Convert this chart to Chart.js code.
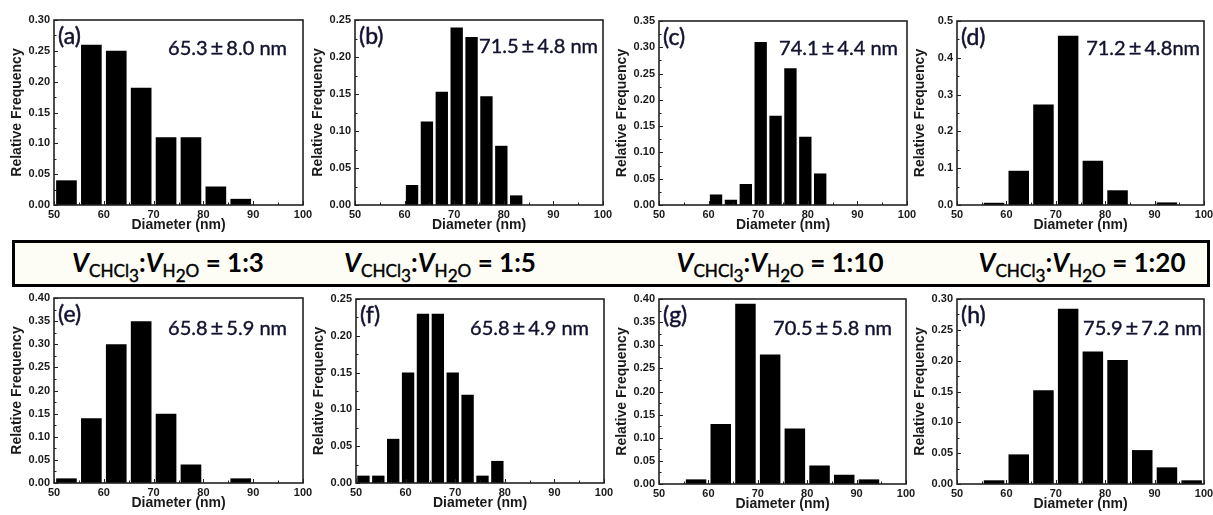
<!DOCTYPE html>
<html><head><meta charset="utf-8">
<script src="https://cdn.jsdelivr.net/npm/chart.js@4.4.1/dist/chart.umd.min.js"></script>
<style>
html,body{margin:0;padding:0;background:#fff;width:1213px;height:515px;overflow:hidden;position:relative;}
canvas{position:absolute;}
.lbl{position:absolute;font-family:Lato,'Open Sans',sans-serif;color:#121230;white-space:nowrap;line-height:24px;height:24px;}
.tag{font-size:23px;-webkit-text-stroke:0.5px #121230;}
.val{font-size:20px;-webkit-text-stroke:0.4px #121230;}
.pm{margin:0 3px;font-size:1.1em;}
#banner{position:absolute;left:12px;top:240px;width:1192px;height:41px;border:3px solid #000;background:#fdfdf6;}
.cond{position:absolute;top:247px;line-height:30px;font-family:Lato,sans-serif;font-weight:700;font-size:26px;color:#000;white-space:nowrap;transform:translateX(-50%);}
.cond i{font-style:italic;}
.s{font-size:0.66em;position:relative;top:0.3em;font-weight:400;-webkit-text-stroke:0.4px #000;}
.s2{position:relative;top:0.3em;}
</style>
</head><body>
<div id="banner"></div>
<div class="cond" style="left:168px"><i>V</i><span class="s">CHCl<span class="s2">3</span></span>:<i>V</i><span class="s">H<span class="s2">2</span>O</span> = 1:3</div>
<div class="cond" style="left:440px"><i>V</i><span class="s">CHCl<span class="s2">3</span></span>:<i>V</i><span class="s">H<span class="s2">2</span>O</span> = 1:5</div>
<div class="cond" style="left:780px"><i>V</i><span class="s">CHCl<span class="s2">3</span></span>:<i>V</i><span class="s">H<span class="s2">2</span>O</span> = 1:10</div>
<div class="cond" style="left:1082px"><i>V</i><span class="s">CHCl<span class="s2">3</span></span>:<i>V</i><span class="s">H<span class="s2">2</span>O</span> = 1:20</div>
<script>
// ---- data ----
const xTicks = [50, 60, 70, 80, 90, 100];

const centersA = [52.5, 57.5, 62.5, 67.5, 72.5, 77.5, 82.5, 87.5, 92.5, 97.5];
const freqA = [0.04, 0.26, 0.25, 0.19, 0.11, 0.11, 0.03, 0.01, 0, 0];
const yTicksA = [0, 0.05, 0.10, 0.15, 0.20, 0.25, 0.30];

const centersB = [61.5, 64.5, 67.5, 70.5, 73.5, 76.5, 79.5, 82.5];
const freqB = [0.027, 0.113, 0.153, 0.24, 0.227, 0.147, 0.08, 0.013];
const yTicksB = [0, 0.05, 0.10, 0.15, 0.20, 0.25];

const centersC = [61.5, 64.5, 67.5, 70.5, 73.5, 76.5, 79.5, 82.5];
const freqC = [0.02, 0.01, 0.04, 0.31, 0.17, 0.26, 0.13, 0.06];
const yTicksC = [0, 0.05, 0.10, 0.15, 0.20, 0.25, 0.30, 0.35];

const centersD = [57.5, 62.5, 67.5, 72.5, 77.5, 82.5, 87.5, 92.5];
const freqD = [0.006, 0.093, 0.273, 0.46, 0.12, 0.04, 0, 0.007];
const yTicksD = [0, 0.1, 0.2, 0.3, 0.4, 0.5];

const centersE = [52.5, 57.5, 62.5, 67.5, 72.5, 77.5, 82.5, 87.5];
const freqE = [0.01, 0.14, 0.30, 0.35, 0.15, 0.04, 0, 0.01];
const yTicksE = [0, 0.05, 0.10, 0.15, 0.20, 0.25, 0.30, 0.35, 0.40];

const centersF = [51.5, 54.5, 57.5, 60.5, 63.5, 66.5, 69.5, 72.5, 75.5, 78.5];
const freqF = [0.01, 0.01, 0.06, 0.15, 0.23, 0.23, 0.15, 0.12, 0.01, 0.03];
const yTicksF = [0, 0.05, 0.10, 0.15, 0.20, 0.25];

const centersG = [57.5, 62.5, 67.5, 72.5, 77.5, 82.5, 87.5, 92.5];
const freqG = [0.01, 0.13, 0.39, 0.28, 0.12, 0.04, 0.02, 0.01];
const yTicksG = [0, 0.05, 0.10, 0.15, 0.20, 0.25, 0.30, 0.35, 0.40];

const centersH = [57.5, 62.5, 67.5, 72.5, 77.5, 82.5, 87.5, 92.5, 97.5];
const freqH = [0.006, 0.048, 0.152, 0.284, 0.215, 0.201, 0.055, 0.027, 0.006];
const yTicksH = [0, 0.05, 0.10, 0.15, 0.20, 0.25, 0.30];

const panelTags = ['(a)', '(b)', '(c)', '(d)', '(e)', '(f)', '(g)', '(h)'];
const panelMeans = ['65.3', '71.5', '74.1', '71.2', '65.8', '65.8', '70.5', '75.9'];
const panelSDs = ['8.0', '4.8', '4.4', '4.8', '5.9', '4.9', '5.8', '7.2'];
const panelUnits = [' nm', ' nm', ' nm', 'nm', ' nm', ' nm', ' nm', ' nm'];

// ---- layout (plot-area boxes, label anchors) ----
const layoutBoxes = [
  {L:54, T:20, R:303, B:205, vx:287, vy:47},
  {L:355, T:20, R:603, B:205, vx:598, vy:45},
  {L:659, T:21, R:907, B:205, vx:898, vy:47},
  {L:957, T:21, R:1204, B:205, vx:1200, vy:47},
  {L:54, T:298, R:303, B:483, vx:287, vy:327},
  {L:356, T:299, R:604, B:483, vx:589, vy:327},
  {L:659, T:299, R:906, B:484, vx:892, vy:327},
  {L:957, T:299, R:1204, B:484, vx:1202, vy:327}
];
const panelData = [
  [centersA, freqA, yTicksA, 2], [centersB, freqB, yTicksB, 2],
  [centersC, freqC, yTicksC, 2], [centersD, freqD, yTicksD, 1],
  [centersE, freqE, yTicksE, 2], [centersF, freqF, yTicksF, 2],
  [centersG, freqG, yTicksG, 2], [centersH, freqH, yTicksH, 2]
];

const YW = 54, PT = 20, PR = 14, XH = 29;
const FONT = "'Liberation Sans', Arial, sans-serif";
const INK = '#1a1a1a';

const frameTicks = {
  id: 'frameTicks',
  afterDatasetsDraw(chart) {
    const {ctx, chartArea: a, scales: {x, y}} = chart;
    ctx.save();
    ctx.strokeStyle = '#222';
    ctx.lineWidth = 1;
    const xt = x.ticks.map(t => t.value), yt = y.ticks.map(t => t.value);
    const mark = (vals, len, isX) => {
      vals.forEach(v => {
        ctx.beginPath();
        if (isX) { const p = Math.round(x.getPixelForValue(v)) + 0.5; ctx.moveTo(p, a.bottom); ctx.lineTo(p, a.bottom - len); }
        else { const p = Math.round(y.getPixelForValue(v)) + 0.5; ctx.moveTo(a.left, p); ctx.lineTo(a.left + len, p); }
        ctx.stroke();
      });
    };
    const mids = arr => arr.slice(1).map((v, i) => (v + arr[i]) / 2);
    mark(xt, 4, true); mark(mids(xt), 2.5, true);
    mark(yt, 4, false); mark(mids(yt), 2.5, false);
    ctx.lineWidth = 1.6;
    ctx.strokeRect(a.left, a.top, a.right - a.left, a.bottom - a.top);
    ctx.restore();
  }
};

layoutBoxes.forEach((g, i) => {
  const [centers, vals, yTicks, dec] = panelData[i];
  const cv = document.createElement('canvas');
  const w = (g.R - g.L) + YW + PR, h = (g.B - g.T) + PT + XH;
  cv.width = w; cv.height = h;
  cv.style.left = (g.L - YW) + 'px'; cv.style.top = (g.T - PT) + 'px';
  cv.style.width = w + 'px'; cv.style.height = h + 'px';
  document.body.appendChild(cv);

  new Chart(cv, {
    type: 'bar',
    data: {datasets: [{
      data: centers.map((c, k) => ({x: c, y: vals[k]})),
      backgroundColor: '#000', borderWidth: 0,
      barPercentage: 0.83, categoryPercentage: 1
    }]},
    options: {
      responsive: false, animation: false, devicePixelRatio: 1,
      layout: {padding: {left: 0, top: PT, right: PR, bottom: 0}},
      plugins: {legend: {display: false}, tooltip: {enabled: false}},
      scales: {
        x: {
          type: 'linear', min: 50, max: 100, offset: false,
          grid: {display: false, drawTicks: false, offset: false},
          border: {display: false},
          afterBuildTicks: s => { s.ticks = xTicks.map(v => ({value: v})); },
          afterFit: s => { s.height = XH; },
          ticks: {font: {family: FONT, size: 11, weight: 'bold'}, color: INK, padding: 3,
                  maxRotation: 0, autoSkip: false, callback: v => String(v)},
          title: {display: true, text: 'Diameter (nm)', color: INK,
                  font: {family: FONT, size: 14, weight: 'bold'}, padding: {top: 0, bottom: 0}}
        },
        y: {
          min: 0, max: yTicks[yTicks.length - 1],
          grid: {display: false, drawTicks: false},
          border: {display: false},
          afterBuildTicks: s => { s.ticks = yTicks.map(v => ({value: v})); },
          afterFit: s => { s.width = YW; },
          ticks: {font: {family: FONT, size: 11, weight: 'bold'}, color: INK, padding: 4,
                  autoSkip: false, callback: v => Number(v).toFixed(dec)},
          title: {display: true, text: 'Relative Frequency', color: INK,
                  font: {family: FONT, size: 14, weight: 'bold'}, padding: {top: 9, bottom: 0}}
        }
      }
    },
    plugins: [frameTicks]
  });

  const tag = document.createElement('div');
  tag.className = 'lbl tag';
  tag.textContent = panelTags[i];
  tag.style.left = (g.L + 4) + 'px';
  tag.style.top = (g.T + 15 - 12) + 'px';
  document.body.appendChild(tag);

  const val = document.createElement('div');
  val.className = 'lbl val';
  val.innerHTML = panelMeans[i] + '<span class="pm">±</span>' + panelSDs[i] + panelUnits[i];
  val.style.right = (1213 - g.vx) + 'px';
  val.style.top = (g.vy - 12) + 'px';
  document.body.appendChild(val);
});
</script>
</body></html>
